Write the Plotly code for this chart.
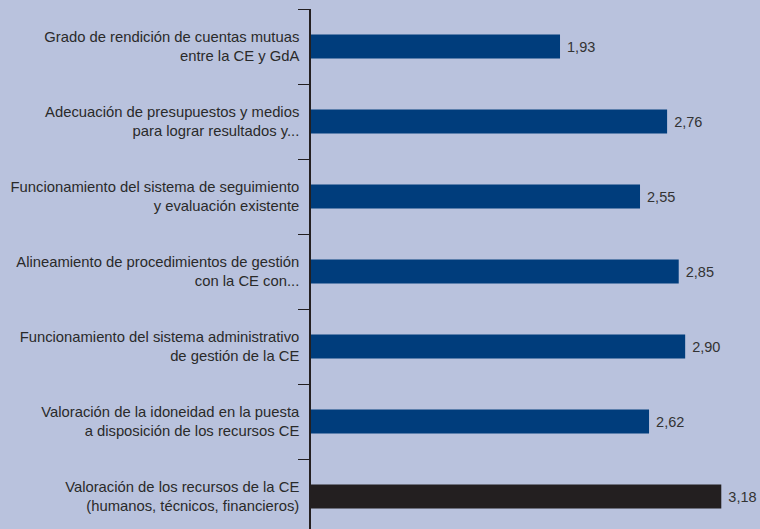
import plotly.graph_objects as go

categories = [
    "Grado de rendición de cuentas mutuas<br>entre la CE y GdA",
    "Adecuación de presupuestos y medios<br>para lograr resultados y...",
    "Funcionamiento del sistema de seguimiento<br>y evaluación existente",
    "Alineamiento de procedimientos de gestión<br>con la CE con...",
    "Funcionamiento del sistema administrativo<br>de gestión de la CE",
    "Valoración de la idoneidad en la puesta<br>a disposición de los recursos CE",
    "Valoración de los recursos de la CE<br>(humanos, técnicos, financieros)",
]
values = [1.93, 2.76, 2.55, 2.85, 2.90, 2.62, 3.18]
bar_colors = ["#003d7c"] * 6 + ["#231f20"]

fig = go.Figure(go.Bar(
    y=categories, x=values, orientation="h",
    marker=dict(color=bar_colors, line=dict(width=0)),
    width=0.32,
    texttemplate=" %{x:.2f}", textposition="outside",
    textfont=dict(family="Liberation Sans, Arial", size=14.5, color="#333333"),
    cliponaxis=False,
    hoverinfo="skip",
))

fig.update_layout(
    width=760, height=529,
    margin=dict(l=311, r=0, t=9, b=0),
    paper_bgcolor="#b9c2dd", plot_bgcolor="#b9c2dd",
    separators=",.",
    showlegend=False,
    font=dict(family="Liberation Sans, Arial", size=14.5, color="#2a2a2a"),
    xaxis=dict(range=[0, 3.48], visible=False, showgrid=False, zeroline=False),
    yaxis=dict(
        type="category", categoryorder="array", categoryarray=categories,
        range=[6.433, -0.5],
        showline=True, linecolor="#231f20", linewidth=1.5,
        ticks="outside", ticklen=11, tickcolor="#231f20", tickwidth=1,
        tickson="boundaries", showgrid=False,
        ticklabelstandoff=7,
        tickfont=dict(family="Liberation Sans, Arial", size=14.8, color="#2a2a2a"),
    ),
)

fig.write_html("out.html", config={"displayModeBar": False},
               post_script="document.body.style.margin='0';")
